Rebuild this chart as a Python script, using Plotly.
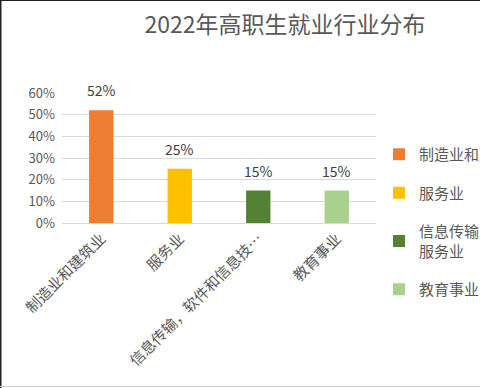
import plotly.graph_objects as go

title = "2022年高职生就业行业分布"
categories = ["制造业和建筑业", "服务业", "信息传输，软件和信息技术服务业", "教育事业"]
tick_labels = ["制造业和建筑业", "服务业", "信息传输，软件和信息技…", "教育事业"]
legend_names = ["制造业和建筑业", "服务业", "信息传输，软件和信息技术<br>服务业", "教育事业"]
values = [0.52, 0.25, 0.15, 0.15]
value_labels = ["52%", "25%", "15%", "15%"]
colors = ["#ED7D31", "#FFC000", "#548235", "#A9D18E"]

FONT = "Noto Sans CJK SC, Microsoft YaHei, sans-serif"

fig = go.Figure()
for i, cat in enumerate(categories):
    fig.add_trace(go.Bar(
        x=[cat], y=[values[i]], name=legend_names[i],
        marker=dict(color=colors[i], line=dict(width=0)),
        width=0.31,
        legendgroup=f"g{i}",
    ))
    fig.add_annotation(
        x=cat, y=values[i], text=value_labels[i], showarrow=False,
        yanchor="bottom", yshift=8,
        font=dict(size=14, color="#404040", family=FONT),
    )

W, H = 480, 388
L, R, T, B = 62, 104, 93, 165
pw = W - L - R
ph = H - T - B

def px_x(p):
    return (p - L) / pw

def px_y(p):
    return (H - B - p) / ph

fig.update_layout(
    width=W, height=H,
    margin=dict(l=L, r=R, t=T, b=B, autoexpand=False),
    paper_bgcolor="white", plot_bgcolor="white",
    barmode="overlay",
    font=dict(family=FONT, color="#595959"),
    title=dict(text=title, x=285 / W, xref="container", xanchor="center",
               y=1 - 25 / H, yref="container", yanchor="middle",
               font=dict(size=23, color="#595959", family=FONT)),
    xaxis=dict(
        categoryorder="array", categoryarray=categories,
        tickmode="array", tickvals=categories, ticktext=tick_labels,
        tickangle=-45, tickfont=dict(size=15, color="#595959"),
        showline=True, linecolor="#d9d9d9", linewidth=1,
        showgrid=False, ticks="", range=[-0.5, 3.5],
    ),
    yaxis=dict(
        range=[0, 0.6], tickvals=[0, 0.1, 0.2, 0.3, 0.4, 0.5, 0.6],
        tickformat=".0%", tickfont=dict(size=13, color="#595959"),
        showgrid=True, gridcolor="#d9d9d9", gridwidth=1,
        zeroline=False, showline=False, ticks="", ticklen=0,
        ticklabelstandoff=6,
    ),
    legend=dict(
        x=px_x(379), y=px_y(138), xanchor="left", yanchor="top",
        font=dict(size=15, color="#595959", family=FONT),
        tracegroupgap=16, traceorder="grouped",
        itemwidth=30, bgcolor="rgba(0,0,0,0)",
        maxheight=300,
    ),
    showlegend=True,
    hovermode=False,
)

# thin frame of the original screenshot
fig.add_shape(type="line", xref="paper", yref="paper",
              x0=px_x(0.5), x1=px_x(0.5), y0=px_y(0), y1=px_y(H),
              line=dict(color="#222222", width=2))
fig.add_shape(type="line", xref="paper", yref="paper",
              x0=px_x(0), x1=px_x(W), y0=px_y(0.5), y1=px_y(0.5),
              line=dict(color="#222222", width=1))
fig.add_shape(type="line", xref="paper", yref="paper",
              x0=px_x(0), x1=px_x(W), y0=px_y(386.5), y1=px_y(386.5),
              line=dict(color="#cccccc", width=1))

fig.write_html("out.html",
               config={"displayModeBar": False},
               post_script="document.body.style.margin='0';document.body.style.overflow='hidden';")
